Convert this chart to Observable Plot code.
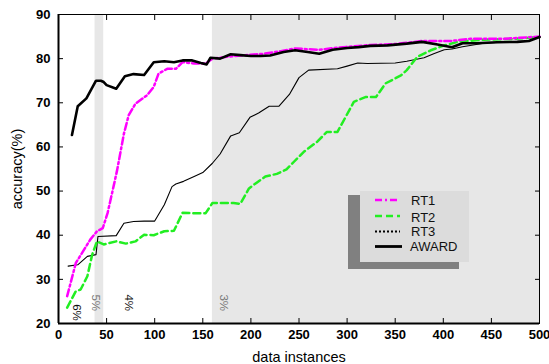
<!DOCTYPE html>
<html><head><meta charset="utf-8">
<script src="https://cdn.jsdelivr.net/npm/d3@7"></script>
<script src="https://cdn.jsdelivr.net/npm/@observablehq/plot@0.6"></script>
<style>
body{margin:0;background:#fff;}
#wrap{position:relative;width:549px;height:364px;font-family:"Liberation Sans",Arial,sans-serif;}
#wrap > svg{position:absolute;left:0;top:0;}
#wrap g[aria-label="x-axis tick label"], #wrap g[aria-label="y-axis tick label"]{font-weight:bold;font-size:13px;}
#wrap g[aria-label="x-axis label"], #wrap g[aria-label="y-axis label"]{font-size:14.5px;}
.lg-shadow{position:absolute;left:348px;top:195px;width:111px;height:74px;background:#808080;}
.lg-box{position:absolute;left:360px;top:191px;width:109px;height:71px;background:#dcdcdc;}
.lg-row{position:absolute;left:375px;height:16px;font-size:13px;color:#111;}
.lg-row svg{position:absolute;left:0;top:0;}
.lg-row span{position:absolute;left:36px;top:0;white-space:nowrap;}
</style></head><body><div id="wrap"></div>
<script>
const xDomain = [0, 500];
const yDomain = [20, 90];
const xTicks = [0, 50, 100, 150, 200, 250, 300, 350, 400, 450, 500];
const yTicks = [20, 30, 40, 50, 60, 70, 80, 90];
const bandStart = [38, 160];
const bandEnd = [47, 500];

const seriesNames = ["RT1", "RT2", "RT3", "AWARD"];
const seriesColors = ["#ff00ff", "#22ee22", "#000000", "#000000"];

const rt1X = [9,18,33,40,46,51,58,61,68,73,80,92,99,104,113,122,129,141,153,160,175,190,213,231,246,271,290,324,350,378,408,428,463,500];
const rt1Y = [26.2,33.7,39,40.9,41.6,45,51.8,54.8,63,67.2,69.8,71.7,73.6,76.6,77.7,77.7,79.2,78.9,78.9,80,80.4,80.7,81.1,81.7,82.3,82,82.5,83.1,83.3,84,84,84.5,84.5,85];

const rt2X = [9,18,23,30,35,40,47,60,70,80,89,99,110,120,129,139,153,160,182,189,198,206,215,227,237,245,255,269,279,290,307,319,330,340,356,362,373,387,401,415,442,475,500];
const rt2Y = [23.6,27.3,27.7,30.7,35.6,38.6,37.9,38.6,38.1,38.6,40.1,40,40.9,41,45.1,45,45,47.3,47.3,47.1,50.6,51.9,53.3,53.9,54.9,56.7,58.9,61.2,63.4,63.4,70.2,71.3,71.3,74.4,76.2,77.4,80.4,81.9,83,83.8,84.3,84.5,84.9];

const rt3X = [10,20,30,39,41,60,68,78,89,100,110,118,122,130,141,150,160,168,179,188,199,208,219,229,240,250,260,290,300,311,321,350,362,380,390,401,409,420,442,463,488,500];
const rt3Y = [33,33.3,35.2,35.6,39.7,39.9,42.7,43.1,43.2,43.2,46.9,51,51.6,52.2,53.3,54.2,56.3,58.4,62.5,63.2,66.7,67.7,69.2,69.2,71.9,75.7,77.4,77.7,78.3,79,78.9,79,79.4,80.2,81.1,82,82.2,82.7,83.5,83.8,84,84.9];

const awardX = [14,20,29,39,44,47,50,60,69,78,89,99,110,120,129,139,148,154,158,168,179,189,200,210,220,234,246,259,271,285,300,312,324,342,362,378,394,409,420,435,456,477,489,500];
const awardY = [62.7,69.2,71,75,75,74.7,74,73.2,76,76.5,76.3,79.2,79.4,79.2,79.6,79.6,79,78.7,80.2,80,81,80.8,80.6,80.6,80.7,81.5,81.9,81.5,81.1,82,82.4,82.6,82.9,83,83.4,83.8,83.2,82.6,83.5,83.5,83.7,83.8,84,84.9];

const annLabels = ["6%", "5%", "4%", "3%"];
const annX = [19, 38.3, 73, 172];
const annY = [22.5, 24.7, 24.7, 24.7];
const annColors = ["#111", "#777", "#111", "#777"];

const toPts = (xs, ys) => xs.map((x, i) => ({x, y: ys[i]}));
const bands = bandStart.map((s, i) => ({x1: s, x2: bandEnd[i]}));
const ann = annLabels.map((t, i) => ({t, x: annX[i], y: annY[i], c: annColors[i]}));

const chart = Plot.plot({
  width: 549, height: 364,
  marginLeft: 58, marginRight: 10, marginTop: 14, marginBottom: 41,
  style: {fontFamily: "Liberation Sans, Arial, sans-serif", fontSize: "13px", color: "#000", background: "transparent"},
  x: {domain: xDomain},
  y: {domain: yDomain},
  marks: [
    Plot.rectX(bands, {x1: "x1", x2: "x2", y1: yDomain[0], y2: yDomain[1], fill: "#e7e7e7"}),
    Plot.axisX({anchor: "bottom", ticks: xTicks, tickSize: -5, tickPadding: 11, label: "data instances", labelAnchor: "center", labelArrow: "none", labelOffset: 38}),
    Plot.axisX({anchor: "top", ticks: xTicks, tickSize: -5, tickFormat: () => "", label: null}),
    Plot.axisY({anchor: "left", ticks: yTicks, tickSize: -5, tickPadding: 13, label: "accuracy(%)", labelAnchor: "center", labelArrow: "none", labelOffset: 47}),
    Plot.axisY({anchor: "right", ticks: yTicks, tickSize: -5, tickFormat: () => "", label: null}),
    Plot.line(toPts(rt3X, rt3Y), {x: "x", y: "y", stroke: seriesColors[2], strokeWidth: 1.1}),
    Plot.line(toPts(rt2X, rt2Y), {x: "x", y: "y", stroke: seriesColors[1], strokeWidth: 2.5, strokeDasharray: "7,4"}),
    Plot.line(toPts(rt1X, rt1Y), {x: "x", y: "y", stroke: seriesColors[0], strokeWidth: 2.5, strokeDasharray: "7,3,2,3"}),
    Plot.line(toPts(awardX, awardY), {x: "x", y: "y", stroke: seriesColors[3], strokeWidth: 2.6}),
    Plot.frame({stroke: "#000", strokeWidth: 1}),
    Plot.ruleX([xDomain[0]], {strokeWidth: 2}),
    Plot.ruleY([yDomain[0]], {strokeWidth: 2}),
    Plot.text(ann, {x: "x", y: "y", text: "t", fill: "c", rotate: 90, fontSize: 11.5})
  ]
});

const wrap = document.getElementById("wrap");
wrap.appendChild(chart);

const sh = document.createElement("div"); sh.className = "lg-shadow"; wrap.appendChild(sh);
const bx = document.createElement("div"); bx.className = "lg-box"; wrap.appendChild(bx);
const rowTop = [193, 210, 224, 239];
const sampleY = [7, 6, 7.5, 7.5];
const dashes = ["7,3,2,3", "7,4", "2,2", null];
const widths = [2.5, 2.5, 2, 2.8];
seriesNames.forEach((name, i) => {
  const row = document.createElement("div");
  row.className = "lg-row";
  row.style.top = rowTop[i] + "px";
  const ns = "http://www.w3.org/2000/svg";
  const s = document.createElementNS(ns, "svg");
  s.setAttribute("width", "30"); s.setAttribute("height", "16");
  const l = document.createElementNS(ns, "line");
  l.setAttribute("x1", i === 3 ? "-2" : "0"); l.setAttribute("x2", i === 3 ? "27" : "25");
  l.setAttribute("y1", sampleY[i]); l.setAttribute("y2", sampleY[i]);
  l.setAttribute("stroke", seriesColors[i]); l.setAttribute("stroke-width", widths[i]);
  if (dashes[i]) l.setAttribute("stroke-dasharray", dashes[i]);
  s.appendChild(l);
  row.appendChild(s);
  const t = document.createElement("span");
  t.textContent = name;
  if (i === 3) t.style.left = "35px";
  row.appendChild(t);
  wrap.appendChild(row);
});
</script>
</body></html>
